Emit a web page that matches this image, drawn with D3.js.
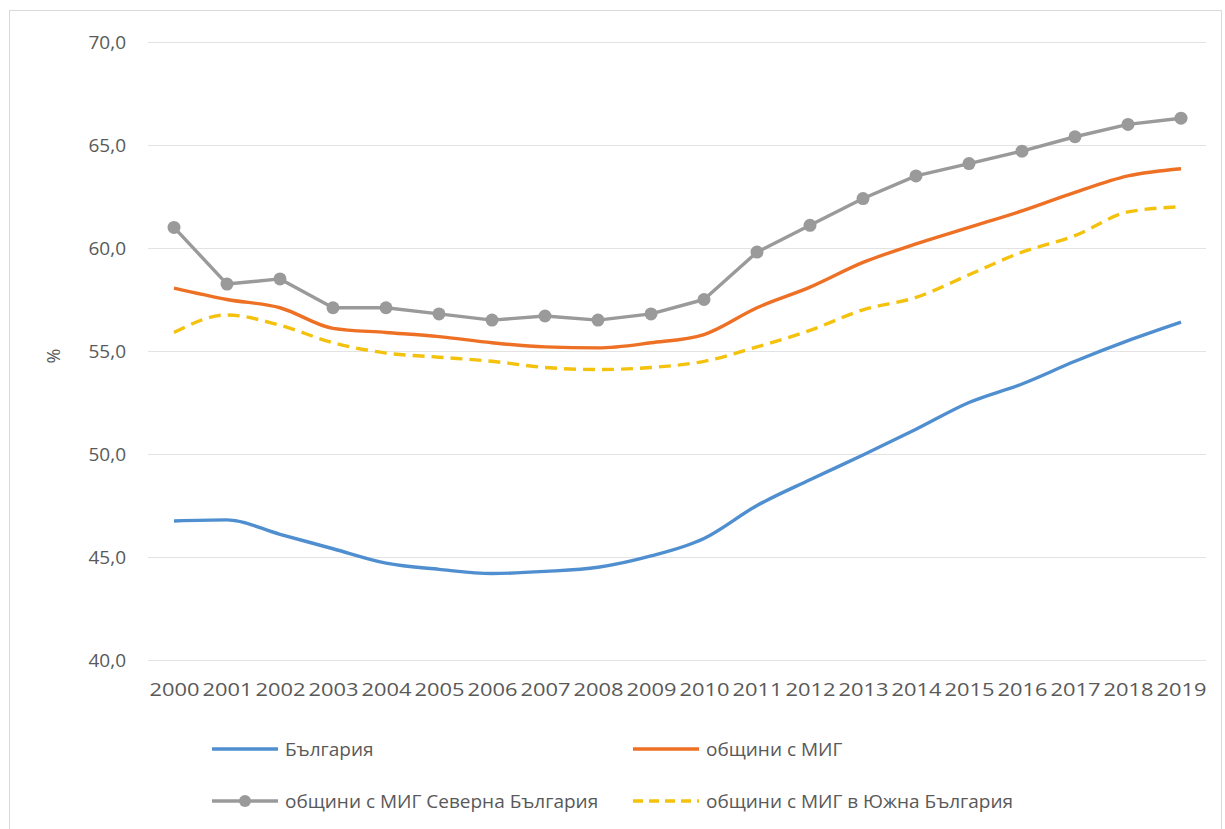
<!DOCTYPE html>
<html>
<head>
<meta charset="utf-8">
<script src="https://cdn.jsdelivr.net/npm/d3@7"></script>
<style>
  body { margin: 0; background: #fff; }
  svg { display: block; font-family: "Open Sans", "Noto Sans", sans-serif; }
</style>
</head>
<body>
<div id="chart"></div>
<script>
const years = ["2000","2001","2002","2003","2004","2005","2006","2007","2008","2009",
               "2010","2011","2012","2013","2014","2015","2016","2017","2018","2019"];
const bulgaria = [46.75,46.8,46.1,45.4,44.7,44.4,44.2,44.3,44.5,45.05,
                  45.9,47.5,48.75,49.95,51.2,52.5,53.4,54.5,55.5,56.4];
const migAll = [58.05,57.5,57.1,56.1,55.9,55.7,55.4,55.2,55.15,55.4,
                55.8,57.1,58.1,59.3,60.2,61.0,61.8,62.7,63.5,63.85];
const migNorth = [61.0,58.25,58.5,57.1,57.1,56.8,56.5,56.7,56.5,56.8,
                  57.5,59.8,61.1,62.4,63.5,64.1,64.7,65.4,66.0,66.3];
const migSouth = [55.9,56.75,56.25,55.4,54.9,54.7,54.5,54.2,54.1,54.2,
                  54.5,55.2,56.0,57.0,57.6,58.7,59.8,60.6,61.75,62.0];
const yTicks = [40,45,50,55,60,65,70];
const seriesNames = ["България","общини с МИГ","общини с МИГ Северна България","общини с МИГ в Южна България"];

const width = 1225, height = 829;
const svg = d3.select("#chart").append("svg")
  .attr("width", width).attr("height", height);

svg.append("rect")
  .attr("x", 9.5).attr("y", 10.5)
  .attr("width", 1212).attr("height", 840)
  .attr("fill", "none").attr("stroke", "#d9d9d9");

const x = d3.scalePoint().domain(years).range([174, 1181]);
const y = d3.scaleLinear().domain([40, 70]).range([660, 42]);

// grid
svg.append("g")
  .selectAll("line").data(yTicks).join("line")
  .attr("x1", 148).attr("x2", 1206)
  .attr("y1", d => y(d) + 0.5).attr("y2", d => y(d) + 0.5)
  .attr("stroke", "#e3e3e3").attr("stroke-width", 1);

// y axis
const yAxis = svg.append("g")
  .attr("transform", "translate(126,0)")
  .call(d3.axisLeft(y).tickValues(yTicks).tickSize(0).tickPadding(0)
    .tickFormat(d => d3.format(".1f")(d).replace(".", ",")));
yAxis.select(".domain").remove();
yAxis.selectAll("text").attr("fill", "#595959").style("font-size", "19px")
  .style("font-family", "Open Sans, sans-serif");

svg.append("text")
  .attr("transform", "translate(60,356) rotate(-90)")
  .attr("text-anchor", "middle")
  .attr("fill", "#595959").style("font-size", "18px")
  .text("%");

// x axis
const xAxis = svg.append("g")
  .attr("transform", "translate(0,660)")
  .call(d3.axisBottom(x).tickSize(0).tickPadding(23));
xAxis.select(".domain").remove();
xAxis.selectAll("text").attr("fill", "#595959").style("font-size", "19px")
  .style("font-family", "Open Sans, sans-serif")
  .attr("textLength", 50).attr("lengthAdjust", "spacingAndGlyphs");

const smooth = d3.line().x((d, i) => x(years[i])).y(d => y(d)).curve(d3.curveMonotoneX);
const straight = d3.line().x((d, i) => x(years[i])).y(d => y(d));

const series = [
  { name: seriesNames[0], values: bulgaria, color: "#4f8fcf", line: smooth, dash: null, marker: false },
  { name: seriesNames[1], values: migAll, color: "#ed7025", line: smooth, dash: null, marker: false },
  { name: seriesNames[2], values: migNorth, color: "#9a9a9a", line: straight, dash: null, marker: true },
  { name: seriesNames[3], values: migSouth, color: "#f4c20d", line: smooth, dash: "12,7", marker: false }
];

const plot = svg.append("g");
series.forEach(s => {
  plot.append("path")
    .datum(s.values)
    .attr("fill", "none")
    .attr("stroke", s.color)
    .attr("stroke-width", 3.4)
    .attr("stroke-linejoin", "round")
    .attr("stroke-dasharray", s.dash)
    .attr("d", s.line);
  if (s.marker) {
    plot.append("g").selectAll("circle").data(s.values).join("circle")
      .attr("cx", (d, i) => x(years[i]))
      .attr("cy", d => y(d))
      .attr("r", 6.5)
      .attr("fill", s.color);
  }
});

// legend
const legendPos = [[212, 749], [633, 749], [212, 801], [633, 801]];
const legend = svg.append("g");
series.forEach((s, i) => {
  const [lx, ly] = legendPos[i];
  const g = legend.append("g").attr("transform", `translate(${lx},${ly})`);
  g.append("line")
    .attr("x1", 0).attr("x2", 66).attr("y1", 0).attr("y2", 0)
    .attr("stroke", s.color).attr("stroke-width", 3.4)
    .attr("stroke-dasharray", s.dash ? "10,6" : null);
  if (s.marker) {
    g.append("circle").attr("cx", 33).attr("cy", 0).attr("r", 6).attr("fill", s.color);
  }
  g.append("text")
    .attr("x", 73).attr("y", 0).attr("dy", "0.35em")
    .attr("fill", "#595959").style("font-size", "19px")
    .text(s.name);
});
</script>
</body>
</html>
